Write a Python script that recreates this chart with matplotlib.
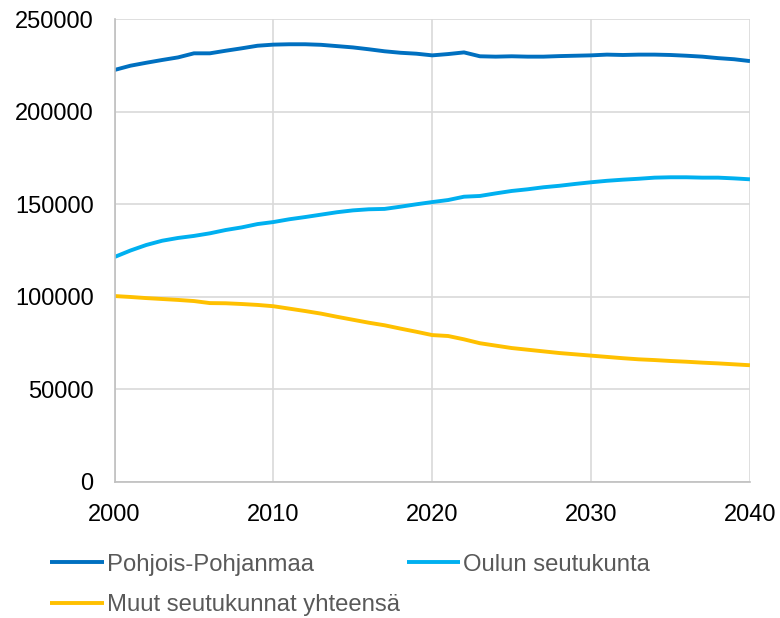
import numpy as np
import matplotlib
matplotlib.use('Agg')
import matplotlib.pyplot as plt

plt.rcParams['font.family'] = ['Liberation Sans', 'DejaVu Sans']

years = np.arange(2000, 2041)

pohjois_pohjanmaa = [
    222600, 224900, 226500, 228000, 229400, 231600, 231600, 233000, 234300, 235700,
    236300, 236500, 236500, 236200, 235500, 234800, 233800, 232700, 231900, 231400,
    230500, 231200, 232100, 230000, 229800, 230000, 229800, 229800, 230100, 230300,
    230500, 230900, 230700, 230900, 230900, 230700, 230300, 229800, 229000, 228400,
    227400,
]
oulun_seutukunta = [
    121500, 125000, 128000, 130300, 131800, 132900, 134300, 136100, 137500, 139300,
    140400, 141900, 143100, 144400, 145700, 146700, 147300, 147500, 148700, 150000,
    151200, 152300, 154100, 154500, 155900, 157200, 158100, 159200, 160000, 161000,
    161900, 162700, 163300, 163800, 164400, 164600, 164600, 164400, 164400, 164000,
    163500,
]
muut_seutukunnat = [
    100400, 99900, 99300, 98800, 98300, 97700, 96600, 96500, 96100, 95600,
    94900, 93600, 92300, 90900, 89200, 87600, 86000, 84600, 82800, 81100,
    79300, 78800, 77000, 74900, 73600, 72300, 71400, 70500, 69600, 68900,
    68200, 67500, 66800, 66200, 65800, 65300, 64900, 64400, 64000, 63500,
    63000,
]
labels = ['Pohjois-Pohjanmaa', 'Oulun seutukunta', 'Muut seutukunnat yhteensä']
colors = ['#0070C0', '#00B0F0', '#FFC000']

fig = plt.figure(figsize=(7.8, 6.18), dpi=100)
ax = fig.add_axes([0.1468, 0.2204, 0.8147, 0.7484])

lines = []
for vals, lab, col in zip([pohjois_pohjanmaa, oulun_seutukunta, muut_seutukunnat], labels, colors):
    ln, = ax.plot(years, vals, color=col, lw=2.8, label=lab, solid_capstyle='butt')
    lines.append(ln)

ax.set_xlim(2000, 2040)
ax.set_ylim(0, 250000)
ax.set_xticks(range(2000, 2041, 10))
ax.set_yticks(range(0, 250001, 50000))
ax.grid(True, color='#D9D9D9', lw=1.2)
ax.set_axisbelow(True)
for s in ['top', 'right']:
    ax.spines[s].set_visible(False)
for s in ['left', 'bottom']:
    ax.spines[s].set_color('#BFBFBF')
    ax.spines[s].set_linewidth(1.2)
ax.tick_params(axis='both', length=0, labelsize=17, colors='black')
ax.tick_params(axis='y', pad=15)
ax.tick_params(axis='x', pad=16)

# column-wise fill: put the third series in the first column's second row
order = [0, 2, 1]
leg = fig.legend([lines[i] for i in order], [labels[i] for i in order],
                 loc='upper left', bbox_to_anchor=(0.064, 0.104), ncol=2,
                 frameon=False, fontsize=17.2, handlelength=2.25, handletextpad=0.12,
                 columnspacing=0.3, labelspacing=0.76, borderaxespad=0, borderpad=0)
for t in leg.get_texts():
    t.set_color('#595959')

fig.savefig('out.png', dpi=100)
